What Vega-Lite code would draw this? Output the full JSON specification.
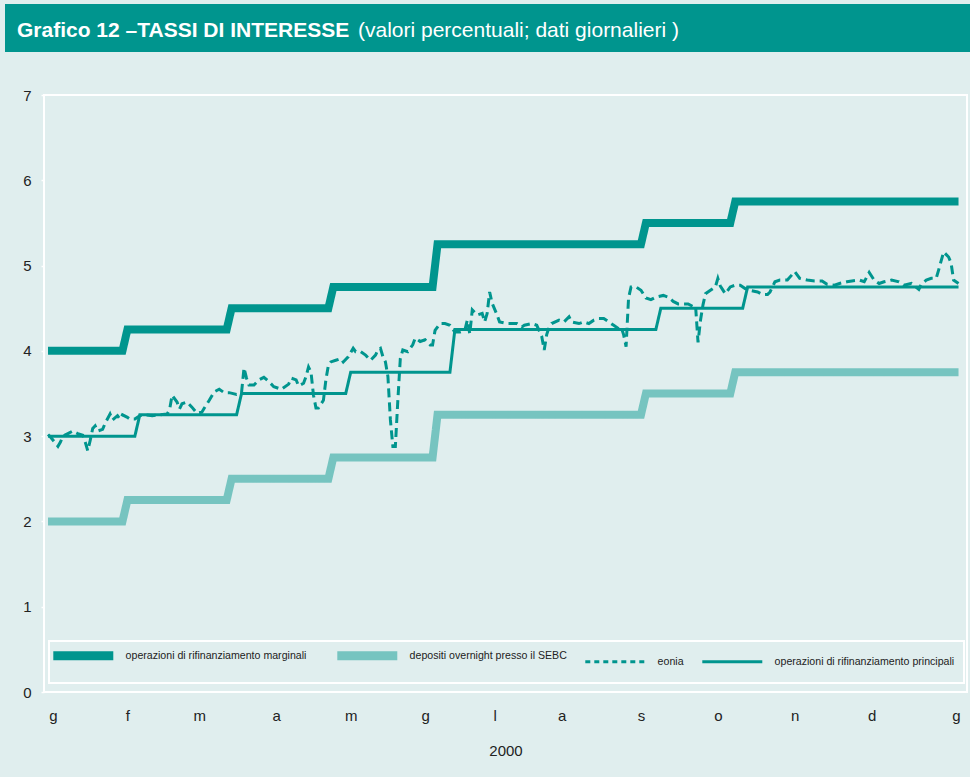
{
  "$schema": "https://vega.github.io/schema/vega-lite/v6.json",
  "background": "#e0eeee",
  "padding": {"left": 5, "top": 4, "right": 0, "bottom": 25},
  "columns": 1,
  "bounds": "full",
  "spacing": 35,
  "title": {"text": "(valori percentuali; dati giornalieri )", "anchor": "start", "frame": "group", "dx": 353, "offset": -54, "baseline": "alphabetic", "font": "Liberation Sans", "fontSize": 21, "fontWeight": "normal", "color": "white"},
  "resolve": {"legend": {"color": "independent"}},
  "config": {"font": "Liberation Sans"},
  "concat": [
    {
      "width": 965,
      "height": 48,
      "view": {"fill": "#00958e", "stroke": null},
      "title": {"text": "Grafico 12 –TASSI DI INTERESSE", "anchor": "start", "frame": "group", "dx": 12, "offset": -54, "baseline": "alphabetic", "font": "Liberation Sans", "fontSize": 21, "fontWeight": "bold", "color": "white"},
      "data": {"values": [{}]},
      "mark": {"type": "text", "text": ""}
    },
    {
      "spacing": 0,
      "resolve": {"legend": {"color": "independent"}},
      "hconcat": [
        {
          "width": 1,
          "height": 597,
          "view": {"stroke": null, "fill": null},
          "data": {"values": [{}]},
          "mark": {"type": "text", "text": ""}
        },
        {
          "width": 923,
          "height": 597,
          "view": {"stroke": "white", "strokeWidth": 2, "fill": null},
          "data": {"values": [
            {"serie": "operazioni di rifinanziamento marginali", "data": "2000-01-01", "valore": 4.00},
            {"serie": "operazioni di rifinanziamento marginali", "data": "2000-01-31", "valore": 4.00},
            {"serie": "operazioni di rifinanziamento marginali", "data": "2000-02-02", "valore": 4.25},
            {"serie": "operazioni di rifinanziamento marginali", "data": "2000-03-13", "valore": 4.25},
            {"serie": "operazioni di rifinanziamento marginali", "data": "2000-03-15", "valore": 4.50},
            {"serie": "operazioni di rifinanziamento marginali", "data": "2000-04-23", "valore": 4.50},
            {"serie": "operazioni di rifinanziamento marginali", "data": "2000-04-25", "valore": 4.75},
            {"serie": "operazioni di rifinanziamento marginali", "data": "2000-06-04", "valore": 4.75},
            {"serie": "operazioni di rifinanziamento marginali", "data": "2000-06-06", "valore": 5.25},
            {"serie": "operazioni di rifinanziamento marginali", "data": "2000-08-27", "valore": 5.25},
            {"serie": "operazioni di rifinanziamento marginali", "data": "2000-08-29", "valore": 5.50},
            {"serie": "operazioni di rifinanziamento marginali", "data": "2000-10-02", "valore": 5.50},
            {"serie": "operazioni di rifinanziamento marginali", "data": "2000-10-04", "valore": 5.75},
            {"serie": "operazioni di rifinanziamento marginali", "data": "2001-01-02", "valore": 5.75},
            {"serie": "depositi overnight presso il SEBC", "data": "2000-01-01", "valore": 2.00},
            {"serie": "depositi overnight presso il SEBC", "data": "2000-01-31", "valore": 2.00},
            {"serie": "depositi overnight presso il SEBC", "data": "2000-02-02", "valore": 2.25},
            {"serie": "depositi overnight presso il SEBC", "data": "2000-03-13", "valore": 2.25},
            {"serie": "depositi overnight presso il SEBC", "data": "2000-03-15", "valore": 2.50},
            {"serie": "depositi overnight presso il SEBC", "data": "2000-04-23", "valore": 2.50},
            {"serie": "depositi overnight presso il SEBC", "data": "2000-04-25", "valore": 2.75},
            {"serie": "depositi overnight presso il SEBC", "data": "2000-06-04", "valore": 2.75},
            {"serie": "depositi overnight presso il SEBC", "data": "2000-06-06", "valore": 3.25},
            {"serie": "depositi overnight presso il SEBC", "data": "2000-08-27", "valore": 3.25},
            {"serie": "depositi overnight presso il SEBC", "data": "2000-08-29", "valore": 3.50},
            {"serie": "depositi overnight presso il SEBC", "data": "2000-10-02", "valore": 3.50},
            {"serie": "depositi overnight presso il SEBC", "data": "2000-10-04", "valore": 3.75},
            {"serie": "depositi overnight presso il SEBC", "data": "2001-01-02", "valore": 3.75},
            {"serie": "operazioni di rifinanziamento principali", "data": "2000-01-01", "valore": 3.00},
            {"serie": "operazioni di rifinanziamento principali", "data": "2000-02-05", "valore": 3.00},
            {"serie": "operazioni di rifinanziamento principali", "data": "2000-02-07", "valore": 3.25},
            {"serie": "operazioni di rifinanziamento principali", "data": "2000-03-17", "valore": 3.25},
            {"serie": "operazioni di rifinanziamento principali", "data": "2000-03-19", "valore": 3.50},
            {"serie": "operazioni di rifinanziamento principali", "data": "2000-04-30", "valore": 3.50},
            {"serie": "operazioni di rifinanziamento principali", "data": "2000-05-02", "valore": 3.75},
            {"serie": "operazioni di rifinanziamento principali", "data": "2000-06-11", "valore": 3.75},
            {"serie": "operazioni di rifinanziamento principali", "data": "2000-06-13", "valore": 4.25},
            {"serie": "operazioni di rifinanziamento principali", "data": "2000-09-02", "valore": 4.25},
            {"serie": "operazioni di rifinanziamento principali", "data": "2000-09-04", "valore": 4.50},
            {"serie": "operazioni di rifinanziamento principali", "data": "2000-10-07", "valore": 4.50},
            {"serie": "operazioni di rifinanziamento principali", "data": "2000-10-09", "valore": 4.75},
            {"serie": "operazioni di rifinanziamento principali", "data": "2001-01-02", "valore": 4.75},
            {"serie": "eonia", "data": "2000-01-01", "valore": 3.02},
            {"serie": "eonia", "data": "2000-01-02", "valore": 2.99},
            {"serie": "eonia", "data": "2000-01-05", "valore": 2.88},
            {"serie": "eonia", "data": "2000-01-06", "valore": 2.93},
            {"serie": "eonia", "data": "2000-01-07", "valore": 3.00},
            {"serie": "eonia", "data": "2000-01-09", "valore": 3.03},
            {"serie": "eonia", "data": "2000-01-11", "valore": 3.06},
            {"serie": "eonia", "data": "2000-01-13", "valore": 3.03},
            {"serie": "eonia", "data": "2000-01-15", "valore": 3.01},
            {"serie": "eonia", "data": "2000-01-16", "valore": 2.93},
            {"serie": "eonia", "data": "2000-01-17", "valore": 2.83},
            {"serie": "eonia", "data": "2000-01-18", "valore": 2.95},
            {"serie": "eonia", "data": "2000-01-19", "valore": 3.09},
            {"serie": "eonia", "data": "2000-01-20", "valore": 3.12},
            {"serie": "eonia", "data": "2000-01-21", "valore": 3.06},
            {"serie": "eonia", "data": "2000-01-23", "valore": 3.08},
            {"serie": "eonia", "data": "2000-01-24", "valore": 3.15},
            {"serie": "eonia", "data": "2000-01-26", "valore": 3.26},
            {"serie": "eonia", "data": "2000-01-27", "valore": 3.19},
            {"serie": "eonia", "data": "2000-01-29", "valore": 3.24},
            {"serie": "eonia", "data": "2000-01-30", "valore": 3.20},
            {"serie": "eonia", "data": "2000-01-31", "valore": 3.25},
            {"serie": "eonia", "data": "2000-02-02", "valore": 3.22},
            {"serie": "eonia", "data": "2000-02-03", "valore": 3.20},
            {"serie": "eonia", "data": "2000-02-05", "valore": 3.20},
            {"serie": "eonia", "data": "2000-02-07", "valore": 3.24},
            {"serie": "eonia", "data": "2000-02-09", "valore": 3.25},
            {"serie": "eonia", "data": "2000-02-12", "valore": 3.24},
            {"serie": "eonia", "data": "2000-02-15", "valore": 3.25},
            {"serie": "eonia", "data": "2000-02-18", "valore": 3.26},
            {"serie": "eonia", "data": "2000-02-19", "valore": 3.31},
            {"serie": "eonia", "data": "2000-02-20", "valore": 3.48},
            {"serie": "eonia", "data": "2000-02-22", "valore": 3.40},
            {"serie": "eonia", "data": "2000-02-23", "valore": 3.32},
            {"serie": "eonia", "data": "2000-02-24", "valore": 3.38},
            {"serie": "eonia", "data": "2000-02-26", "valore": 3.40},
            {"serie": "eonia", "data": "2000-02-28", "valore": 3.34},
            {"serie": "eonia", "data": "2000-03-01", "valore": 3.27},
            {"serie": "eonia", "data": "2000-03-03", "valore": 3.28},
            {"serie": "eonia", "data": "2000-03-04", "valore": 3.33},
            {"serie": "eonia", "data": "2000-03-06", "valore": 3.42},
            {"serie": "eonia", "data": "2000-03-08", "valore": 3.52},
            {"serie": "eonia", "data": "2000-03-10", "valore": 3.55},
            {"serie": "eonia", "data": "2000-03-12", "valore": 3.51},
            {"serie": "eonia", "data": "2000-03-14", "valore": 3.51},
            {"serie": "eonia", "data": "2000-03-17", "valore": 3.49},
            {"serie": "eonia", "data": "2000-03-19", "valore": 3.51},
            {"serie": "eonia", "data": "2000-03-20", "valore": 3.80},
            {"serie": "eonia", "data": "2000-03-21", "valore": 3.68},
            {"serie": "eonia", "data": "2000-03-22", "valore": 3.60},
            {"serie": "eonia", "data": "2000-03-24", "valore": 3.60},
            {"serie": "eonia", "data": "2000-03-26", "valore": 3.66},
            {"serie": "eonia", "data": "2000-03-28", "valore": 3.69},
            {"serie": "eonia", "data": "2000-03-30", "valore": 3.64},
            {"serie": "eonia", "data": "2000-04-01", "valore": 3.58},
            {"serie": "eonia", "data": "2000-04-04", "valore": 3.55},
            {"serie": "eonia", "data": "2000-04-07", "valore": 3.61},
            {"serie": "eonia", "data": "2000-04-08", "valore": 3.68},
            {"serie": "eonia", "data": "2000-04-10", "valore": 3.66},
            {"serie": "eonia", "data": "2000-04-11", "valore": 3.59},
            {"serie": "eonia", "data": "2000-04-13", "valore": 3.62},
            {"serie": "eonia", "data": "2000-04-14", "valore": 3.70},
            {"serie": "eonia", "data": "2000-04-15", "valore": 3.81},
            {"serie": "eonia", "data": "2000-04-16", "valore": 3.75},
            {"serie": "eonia", "data": "2000-04-17", "valore": 3.48},
            {"serie": "eonia", "data": "2000-04-18", "valore": 3.33},
            {"serie": "eonia", "data": "2000-04-19", "valore": 3.33},
            {"serie": "eonia", "data": "2000-04-21", "valore": 3.42},
            {"serie": "eonia", "data": "2000-04-22", "valore": 3.66},
            {"serie": "eonia", "data": "2000-04-23", "valore": 3.83},
            {"serie": "eonia", "data": "2000-04-24", "valore": 3.87},
            {"serie": "eonia", "data": "2000-04-26", "valore": 3.89},
            {"serie": "eonia", "data": "2000-04-28", "valore": 3.91},
            {"serie": "eonia", "data": "2000-04-29", "valore": 3.87},
            {"serie": "eonia", "data": "2000-05-01", "valore": 3.93},
            {"serie": "eonia", "data": "2000-05-03", "valore": 4.03},
            {"serie": "eonia", "data": "2000-05-04", "valore": 3.99},
            {"serie": "eonia", "data": "2000-05-06", "valore": 3.99},
            {"serie": "eonia", "data": "2000-05-08", "valore": 3.95},
            {"serie": "eonia", "data": "2000-05-10", "valore": 3.89},
            {"serie": "eonia", "data": "2000-05-12", "valore": 3.95},
            {"serie": "eonia", "data": "2000-05-13", "valore": 4.01},
            {"serie": "eonia", "data": "2000-05-14", "valore": 4.03},
            {"serie": "eonia", "data": "2000-05-15", "valore": 3.93},
            {"serie": "eonia", "data": "2000-05-16", "valore": 3.87},
            {"serie": "eonia", "data": "2000-05-17", "valore": 3.70},
            {"serie": "eonia", "data": "2000-05-18", "valore": 3.19},
            {"serie": "eonia", "data": "2000-05-19", "valore": 2.88},
            {"serie": "eonia", "data": "2000-05-20", "valore": 2.88},
            {"serie": "eonia", "data": "2000-05-21", "valore": 3.42},
            {"serie": "eonia", "data": "2000-05-22", "valore": 3.91},
            {"serie": "eonia", "data": "2000-05-23", "valore": 4.01},
            {"serie": "eonia", "data": "2000-05-25", "valore": 3.99},
            {"serie": "eonia", "data": "2000-05-27", "valore": 4.07},
            {"serie": "eonia", "data": "2000-05-28", "valore": 4.15},
            {"serie": "eonia", "data": "2000-05-29", "valore": 4.13},
            {"serie": "eonia", "data": "2000-05-30", "valore": 4.11},
            {"serie": "eonia", "data": "2000-06-01", "valore": 4.13},
            {"serie": "eonia", "data": "2000-06-03", "valore": 4.07},
            {"serie": "eonia", "data": "2000-06-04", "valore": 4.07},
            {"serie": "eonia", "data": "2000-06-05", "valore": 4.24},
            {"serie": "eonia", "data": "2000-06-07", "valore": 4.32},
            {"serie": "eonia", "data": "2000-06-09", "valore": 4.32},
            {"serie": "eonia", "data": "2000-06-11", "valore": 4.30},
            {"serie": "eonia", "data": "2000-06-13", "valore": 4.22},
            {"serie": "eonia", "data": "2000-06-15", "valore": 4.22},
            {"serie": "eonia", "data": "2000-06-17", "valore": 4.24},
            {"serie": "eonia", "data": "2000-06-18", "valore": 4.36},
            {"serie": "eonia", "data": "2000-06-19", "valore": 4.20},
            {"serie": "eonia", "data": "2000-06-20", "valore": 4.48},
            {"serie": "eonia", "data": "2000-06-22", "valore": 4.42},
            {"serie": "eonia", "data": "2000-06-24", "valore": 4.44},
            {"serie": "eonia", "data": "2000-06-25", "valore": 4.34},
            {"serie": "eonia", "data": "2000-06-26", "valore": 4.44},
            {"serie": "eonia", "data": "2000-06-27", "valore": 4.69},
            {"serie": "eonia", "data": "2000-06-28", "valore": 4.56},
            {"serie": "eonia", "data": "2000-06-30", "valore": 4.42},
            {"serie": "eonia", "data": "2000-07-01", "valore": 4.34},
            {"serie": "eonia", "data": "2000-07-04", "valore": 4.32},
            {"serie": "eonia", "data": "2000-07-08", "valore": 4.32},
            {"serie": "eonia", "data": "2000-07-10", "valore": 4.28},
            {"serie": "eonia", "data": "2000-07-11", "valore": 4.30},
            {"serie": "eonia", "data": "2000-07-14", "valore": 4.32},
            {"serie": "eonia", "data": "2000-07-16", "valore": 4.30},
            {"serie": "eonia", "data": "2000-07-18", "valore": 4.17},
            {"serie": "eonia", "data": "2000-07-19", "valore": 4.01},
            {"serie": "eonia", "data": "2000-07-20", "valore": 4.19},
            {"serie": "eonia", "data": "2000-07-21", "valore": 4.28},
            {"serie": "eonia", "data": "2000-07-22", "valore": 4.32},
            {"serie": "eonia", "data": "2000-07-25", "valore": 4.36},
            {"serie": "eonia", "data": "2000-07-27", "valore": 4.34},
            {"serie": "eonia", "data": "2000-07-29", "valore": 4.40},
            {"serie": "eonia", "data": "2000-07-30", "valore": 4.34},
            {"serie": "eonia", "data": "2000-08-02", "valore": 4.32},
            {"serie": "eonia", "data": "2000-08-04", "valore": 4.34},
            {"serie": "eonia", "data": "2000-08-06", "valore": 4.32},
            {"serie": "eonia", "data": "2000-08-08", "valore": 4.36},
            {"serie": "eonia", "data": "2000-08-10", "valore": 4.38},
            {"serie": "eonia", "data": "2000-08-12", "valore": 4.38},
            {"serie": "eonia", "data": "2000-08-14", "valore": 4.34},
            {"serie": "eonia", "data": "2000-08-16", "valore": 4.30},
            {"serie": "eonia", "data": "2000-08-18", "valore": 4.26},
            {"serie": "eonia", "data": "2000-08-19", "valore": 4.28},
            {"serie": "eonia", "data": "2000-08-20", "valore": 4.19},
            {"serie": "eonia", "data": "2000-08-21", "valore": 4.05},
            {"serie": "eonia", "data": "2000-08-22", "valore": 4.62},
            {"serie": "eonia", "data": "2000-08-23", "valore": 4.75},
            {"serie": "eonia", "data": "2000-08-25", "valore": 4.75},
            {"serie": "eonia", "data": "2000-08-27", "valore": 4.71},
            {"serie": "eonia", "data": "2000-08-29", "valore": 4.62},
            {"serie": "eonia", "data": "2000-08-31", "valore": 4.60},
            {"serie": "eonia", "data": "2000-09-02", "valore": 4.63},
            {"serie": "eonia", "data": "2000-09-05", "valore": 4.65},
            {"serie": "eonia", "data": "2000-09-07", "valore": 4.63},
            {"serie": "eonia", "data": "2000-09-09", "valore": 4.58},
            {"serie": "eonia", "data": "2000-09-11", "valore": 4.55},
            {"serie": "eonia", "data": "2000-09-13", "valore": 4.55},
            {"serie": "eonia", "data": "2000-09-15", "valore": 4.55},
            {"serie": "eonia", "data": "2000-09-17", "valore": 4.52},
            {"serie": "eonia", "data": "2000-09-18", "valore": 4.53},
            {"serie": "eonia", "data": "2000-09-19", "valore": 4.10},
            {"serie": "eonia", "data": "2000-09-20", "valore": 4.36},
            {"serie": "eonia", "data": "2000-09-21", "valore": 4.54},
            {"serie": "eonia", "data": "2000-09-22", "valore": 4.67},
            {"serie": "eonia", "data": "2000-09-24", "valore": 4.71},
            {"serie": "eonia", "data": "2000-09-26", "valore": 4.75},
            {"serie": "eonia", "data": "2000-09-27", "valore": 4.85},
            {"serie": "eonia", "data": "2000-09-28", "valore": 4.76},
            {"serie": "eonia", "data": "2000-09-30", "valore": 4.67},
            {"serie": "eonia", "data": "2000-10-02", "valore": 4.75},
            {"serie": "eonia", "data": "2000-10-04", "valore": 4.77},
            {"serie": "eonia", "data": "2000-10-06", "valore": 4.77},
            {"serie": "eonia", "data": "2000-10-08", "valore": 4.73},
            {"serie": "eonia", "data": "2000-10-10", "valore": 4.71},
            {"serie": "eonia", "data": "2000-10-13", "valore": 4.69},
            {"serie": "eonia", "data": "2000-10-15", "valore": 4.66},
            {"serie": "eonia", "data": "2000-10-17", "valore": 4.66},
            {"serie": "eonia", "data": "2000-10-18", "valore": 4.69},
            {"serie": "eonia", "data": "2000-10-20", "valore": 4.81},
            {"serie": "eonia", "data": "2000-10-22", "valore": 4.83},
            {"serie": "eonia", "data": "2000-10-25", "valore": 4.83},
            {"serie": "eonia", "data": "2000-10-28", "valore": 4.93},
            {"serie": "eonia", "data": "2000-10-30", "valore": 4.85},
            {"serie": "eonia", "data": "2000-11-02", "valore": 4.83},
            {"serie": "eonia", "data": "2000-11-05", "valore": 4.82},
            {"serie": "eonia", "data": "2000-11-08", "valore": 4.82},
            {"serie": "eonia", "data": "2000-11-10", "valore": 4.78},
            {"serie": "eonia", "data": "2000-11-13", "valore": 4.77},
            {"serie": "eonia", "data": "2000-11-15", "valore": 4.79},
            {"serie": "eonia", "data": "2000-11-18", "valore": 4.81},
            {"serie": "eonia", "data": "2000-11-20", "valore": 4.82},
            {"serie": "eonia", "data": "2000-11-23", "valore": 4.83},
            {"serie": "eonia", "data": "2000-11-25", "valore": 4.81},
            {"serie": "eonia", "data": "2000-11-27", "valore": 4.92},
            {"serie": "eonia", "data": "2000-11-29", "valore": 4.83},
            {"serie": "eonia", "data": "2000-12-01", "valore": 4.79},
            {"serie": "eonia", "data": "2000-12-03", "valore": 4.81},
            {"serie": "eonia", "data": "2000-12-06", "valore": 4.83},
            {"serie": "eonia", "data": "2000-12-09", "valore": 4.81},
            {"serie": "eonia", "data": "2000-12-11", "valore": 4.77},
            {"serie": "eonia", "data": "2000-12-14", "valore": 4.79},
            {"serie": "eonia", "data": "2000-12-17", "valore": 4.72},
            {"serie": "eonia", "data": "2000-12-18", "valore": 4.78},
            {"serie": "eonia", "data": "2000-12-20", "valore": 4.83},
            {"serie": "eonia", "data": "2000-12-22", "valore": 4.85},
            {"serie": "eonia", "data": "2000-12-24", "valore": 4.85},
            {"serie": "eonia", "data": "2000-12-25", "valore": 4.95},
            {"serie": "eonia", "data": "2000-12-27", "valore": 5.16},
            {"serie": "eonia", "data": "2000-12-29", "valore": 5.10},
            {"serie": "eonia", "data": "2000-12-30", "valore": 5.03},
            {"serie": "eonia", "data": "2000-12-31", "valore": 4.83},
            {"serie": "eonia", "data": "2001-01-02", "valore": 4.79}
          ]},
          "mark": {"type": "line", "strokeCap": "butt"},
          "encoding": {
            "x": {
              "field": "data", "type": "temporal",
              "scale": {"type": "utc", "domain": [{"year": 1999, "month": 12, "date": 30, "hours": 9, "utc": true}, {"year": 2001, "month": 1, "date": 5, "hours": 10, "utc": true}], "nice": false},
              "axis": {
                "title": "2000",
                "values": [
                  {"year": 2000, "month": 1, "date": 3, "utc": true},
                  {"year": 2000, "month": 2, "date": 2, "utc": true},
                  {"year": 2000, "month": 3, "date": 2, "utc": true},
                  {"year": 2000, "month": 4, "date": 2, "utc": true},
                  {"year": 2000, "month": 5, "date": 2, "utc": true},
                  {"year": 2000, "month": 6, "date": 1, "utc": true},
                  {"year": 2000, "month": 6, "date": 29, "utc": true},
                  {"year": 2000, "month": 7, "date": 26, "utc": true},
                  {"year": 2000, "month": 8, "date": 27, "utc": true},
                  {"year": 2000, "month": 9, "date": 27, "utc": true},
                  {"year": 2000, "month": 10, "date": 28, "utc": true},
                  {"year": 2000, "month": 11, "date": 28, "utc": true},
                  {"year": 2001, "month": 1, "date": 1, "utc": true}
                ],
                "labelExpr": "['g','f','m','a','m','g','l','a','s','o','n','d','g'][round((datum.value - utc(2000,0,2)) / 86400000 / 30.4)]",
                "domain": false, "ticks": false, "grid": false, "labelFlush": false, "labelOverlap": false,
                "labelPadding": 16, "labelFont": "Liberation Sans", "labelFontSize": 15, "labelColor": "#222222",
                "titleFont": "Liberation Sans", "titleFontSize": 15, "titleFontWeight": "normal", "titleColor": "#222222", "titlePadding": 20
              }
            },
            "y": {
              "field": "valore", "type": "quantitative",
              "scale": {"domain": [0, 7], "nice": false, "zero": true},
              "axis": {
                "title": null, "values": [0, 1, 2, 3, 4, 5, 6, 7], "domain": false, "grid": false,
                "ticks": true, "tickColor": "white", "tickSize": 3, "tickWidth": 1.5,
                "labelPadding": 10, "labelFont": "Liberation Sans", "labelFontSize": 15, "labelColor": "#222222",
                "minExtent": 37, "maxExtent": 37
              }
            },
            "color": {
              "field": "serie", "type": "nominal",
              "scale": {
                "domain": ["operazioni di rifinanziamento marginali", "depositi overnight presso il SEBC", "eonia", "operazioni di rifinanziamento principali"],
                "range": ["#00958e", "#76c4c0", "#00958e", "#00958e"]
              },
              "legend": {
                "orient": "none", "legendX": 5, "legendY": 546, "direction": "horizontal", "title": null,
                "symbolType": "stroke", "symbolSize": 3600, "symbolOffset": 20, "labelOffset": 37, "columnPadding": 12, "padding": 9,
                "strokeColor": "white", "labelFont": "Liberation Sans", "labelFontSize": 10.6, "labelColor": "#222222", "labelLimit": 400,
                "encode": {
                  "legend": {"update": {"strokeWidth": {"value": 2}}},
                  "symbols": {"update": {
                    "strokeWidth": {"signal": "indexof(['operazioni di rifinanziamento marginali','depositi overnight presso il SEBC'], datum.value) >= 0 ? 9 : 3"},
                    "strokeDash": {"signal": "datum.value === 'eonia' ? [5,4] : [1,0]"}
                  }}
                }
              }
            },
            "strokeWidth": {"condition": {"test": "datum.serie === 'operazioni di rifinanziamento marginali' || datum.serie === 'depositi overnight presso il SEBC'", "value": 8}, "value": 3},
            "strokeDash": {"condition": {"test": "datum.serie === 'eonia'", "value": [9, 5]}, "value": [1, 0]}
          }
        }
      ]
    }
  ]
}
